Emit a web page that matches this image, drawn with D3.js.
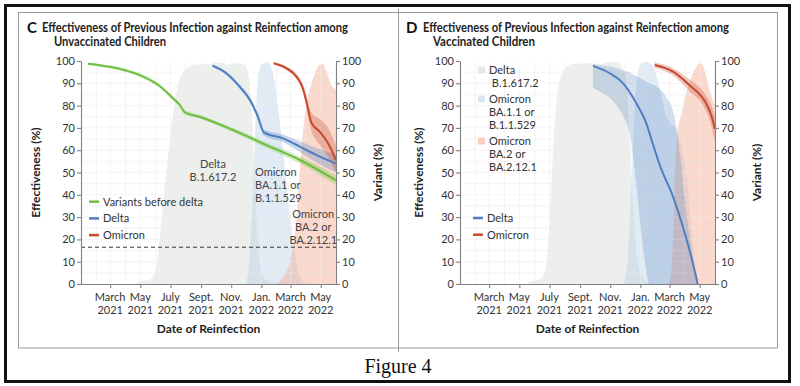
<!DOCTYPE html>
<html><head><meta charset="utf-8">
<script src="https://cdn.jsdelivr.net/npm/d3@7"></script>
<style>
body{margin:0;background:#fff;}
svg{display:block;font-family:Lato,"Open Sans",sans-serif;}
</style>
</head><body>
<svg id="chart" width="800" height="386"></svg>
<script>
// ---------- shared axis data ----------
const tickDates  = ["2021-03-01","2021-05-01","2021-07-01","2021-09-01","2021-11-01","2022-01-01","2022-03-01","2022-05-01"];
const tickMonths = ["March","May","July","Sept.","Nov.","Jan.","March","May"];
const tickYears  = ["2021","2021","2021","2021","2021","2022","2022","2022"];
const yTicks = [0,10,20,30,40,50,60,70,80,90,100];
const dashedLevel = 16.5;

// ---------- Panel C: unvaccinated ----------
const unvDeltaShare = [["2021-01-01",0],["2021-04-22",0],["2021-04-28",1],["2021-05-10",1.5],["2021-05-24",2.5],["2021-06-03",8],["2021-06-09",20],["2021-06-17",38],["2021-06-25",55],["2021-07-04",72],["2021-07-14",87],["2021-07-26",95],["2021-08-09",97.5],["2021-08-23",98.5],["2021-09-18",98.7],["2021-10-12",99.3],["2021-10-25",98.3],["2021-11-08",99],["2021-11-25",98.5],["2021-12-05",95],["2021-12-13",75],["2021-12-19",45],["2021-12-25",18],["2022-01-02",5],["2022-01-14",1.5],["2022-02-07",0.5],["2022-02-27",0]];
const unvBA1Share = [["2021-12-01",0],["2021-12-09",15],["2021-12-17",55],["2021-12-25",92],["2022-01-02",98.5],["2022-01-14",99.3],["2022-01-24",95],["2022-02-03",80],["2022-02-13",62],["2022-02-23",40],["2022-03-06",20],["2022-03-16",6],["2022-03-26",1],["2022-04-09",0]];
const unvBA2Share = [["2022-01-28",0],["2022-02-07",1],["2022-02-17",4],["2022-02-27",9],["2022-03-07",18],["2022-03-13",28],["2022-03-19",48],["2022-03-27",70],["2022-04-02",80],["2022-04-10",88],["2022-04-19",94],["2022-04-27",98],["2022-05-05",98.5],["2022-05-13",95],["2022-05-21",90],["2022-06-01",87]];
// [date, estimate, lower, upper]
const unvPreDelta = [["2021-01-15",98.8,98.2,99.3],["2021-02-28",97.4,96.8,98.0],["2021-04-03",95.7,95.0,96.4],["2021-05-07",93.0,92.2,93.8],["2021-06-09",88.8,88.0,89.7],["2021-07-06",83.3,82.4,84.2],["2021-07-20",80.3,79.4,81.2],["2021-07-30",77.0,76.1,78.0],["2021-08-29",75.0,74.1,75.9],["2021-11-04",69.1,68.1,70.1],["2022-01-11",62.3,61.1,63.5],["2022-03-20",55.6,54.0,57.2],["2022-06-01",46.5,44.3,48.7]];
const unvDelta = [["2021-09-24",97.9,97.3,98.4],["2021-10-22",94.5,93.7,95.3],["2021-11-18",88.5,87.5,89.5],["2021-12-09",82.5,81.3,83.7],["2021-12-25",75.0,73.7,76.3],["2022-01-06",68.0,66.6,69.4],["2022-02-14",65.3,63.6,67.0],["2022-03-20",61.6,59.2,64.0],["2022-04-23",57.8,54.5,61.0],["2022-06-01",54.0,50.0,58.0]];
const unvOmicron = [["2022-01-26",99.0,98.6,99.4],["2022-02-21",96.7,95.9,97.5],["2022-03-13",93.0,91.7,94.3],["2022-03-26",87.8,85.8,89.8],["2022-04-03",81.0,78.3,83.7],["2022-04-12",72.5,69.0,77.0],["2022-04-29",68.3,62.5,74.0],["2022-05-16",63.1,57.0,70.0],["2022-06-01",55.5,50.0,62.0]];

// ---------- Panel D: vaccinated ----------
const vacDeltaShare = [["2021-01-01",0],["2021-05-18",0],["2021-05-24",1.2],["2021-06-11",2],["2021-06-21",5],["2021-06-29",20],["2021-07-05",45],["2021-07-11",70],["2021-07-19",88],["2021-07-31",96],["2021-08-14",98.5],["2021-09-20",99],["2021-10-10",98.5],["2021-10-31",99.5],["2021-11-14",99.5],["2021-11-24",97.5],["2021-12-04",90],["2021-12-12",60],["2021-12-20",25],["2021-12-30",6],["2022-01-15",1],["2022-02-09",0]];
const vacBA1Share = [["2021-11-28",0],["2021-12-06",10],["2021-12-14",45],["2021-12-22",85],["2021-12-30",97],["2022-01-09",99.5],["2022-01-24",98.5],["2022-02-03",93],["2022-02-13",84],["2022-02-23",75],["2022-03-03",72],["2022-03-13",70],["2022-03-25",62],["2022-04-06",45],["2022-04-16",20],["2022-04-25",3],["2022-05-01",0]];
const vacBA2Share = [["2022-02-25",0],["2022-03-03",3],["2022-03-07",15],["2022-03-11",45],["2022-03-17",68],["2022-03-25",76],["2022-04-02",84],["2022-04-10",90],["2022-04-22",96.5],["2022-05-04",99],["2022-05-12",95],["2022-05-22",86],["2022-06-01",80]];
const vacDelta = [["2021-09-27",97.8],["2021-10-31",94.5],["2021-11-27",90],["2021-12-24",81],["2022-01-13",72],["2022-01-26",63],["2022-02-09",53.4],["2022-03-08",39.2],["2022-03-28",25.7],["2022-04-14",12.2],["2022-04-27",0]];
// [date, lower, upper]
const vacDeltaBand = [["2021-09-27",88,98.5],["2021-10-21",85,97.8],["2021-10-31",83.5,97.5],["2021-11-10",81,97],["2021-11-30",74,95.5],["2021-12-10",68,95],["2021-12-14",62,94.5],["2021-12-26",40,93],["2022-01-07",15,91.5],["2022-01-20",0,90],["2022-02-09",0,87.5],["2022-02-25",0,83],["2022-03-11",0,75],["2022-03-21",0,60],["2022-03-31",0,40],["2022-04-10",0,22],["2022-04-20",0,8],["2022-04-28",0,0]];
const vacOmicron = [["2022-01-30",98.2,97.0,99.3],["2022-03-08",95.2,93.5,96.8],["2022-04-10",89.2,86.5,91.8],["2022-05-14",81.0,77.5,84.5],["2022-05-24",76.0,71.5,80.5],["2022-06-01",69.5,63.5,75.5]];

// ---------- styles ----------
const COL = {
  green:"#6cbf3f", blue:"#4f7fc0", red:"#c9482f",
  grayArea:"#c5cac5", blueArea:"#a9c8e2", pinkArea:"#f4a98f",
  axis:"#808080", text:"#333", grid:"#ececec"
};
const OP = {gray:0.3, blue:0.36, pink:0.45};
const parse = d3.timeParse("%Y-%m-%d");
const svg = d3.select("#chart");

// frame
svg.append("rect").attr("x",5.5).attr("y",5.5).attr("width",784).attr("height",376)
  .attr("fill","none").attr("stroke","#111").attr("stroke-width",3);
svg.append("rect").attr("x",18.5).attr("y",12.5).attr("width",759).attr("height",335.5)
  .attr("fill","none").attr("stroke","#9a9a9a").attr("stroke-width",1);
svg.append("line").attr("x1",398.5).attr("x2",398.5).attr("y1",9).attr("y2",352)
  .attr("stroke","#9a9a9a").attr("stroke-width",1);
svg.append("text").attr("x",398).attr("y",373).attr("text-anchor","middle")
  .style("font-family","'Liberation Serif','DejaVu Serif',serif").style("font-size","20px")
  .attr("fill","#111").text("Figure 4");

const W = 255, H = 223;
const x = d3.scaleTime().domain([parse("2021-01-01"), parse("2022-06-01")]).range([0, W]);
const y = d3.scaleLinear().domain([0,100]).range([H,0]);

function panel(cfg){
  const g = svg.append("g").attr("transform",`translate(${cfg.left},61)`);
  const clipId = "clip"+cfg.letter;
  g.append("clipPath").attr("id",clipId).append("rect").attr("width",W).attr("height",H+0.5);
  const plot = g.append("g").attr("clip-path",`url(#${clipId})`);

  // variant share areas
  const shareArea = d3.area().x(d=>x(parse(d[0]))).y0(y(0)).y1(d=>y(d[1])).curve(d3.curveMonotoneX);
  [[cfg.deltaShare,COL.grayArea,OP.gray],[cfg.ba1Share,COL.blueArea,OP.blue],[cfg.ba2Share,COL.pinkArea,OP.pink]]
    .forEach(([data,c,o])=>plot.append("path").datum(data).attr("d",shareArea).attr("fill",c).attr("fill-opacity",o));

  // grid (faint, on top of areas)
  const months = d3.timeMonth.range(parse("2021-01-01"), parse("2022-06-02"));
  plot.append("g").selectAll("line").data(months).join("line")
    .attr("x1",d=>x(d)).attr("x2",d=>x(d)).attr("y1",0).attr("y2",H)
    .attr("stroke",COL.grid).attr("stroke-width",0.7).attr("stroke-opacity",0.8);
  plot.append("g").selectAll("line").data(d3.range(5,100,5)).join("line")
    .attr("x1",0).attr("x2",W).attr("y1",d=>y(d)).attr("y2",d=>y(d))
    .attr("stroke",COL.grid).attr("stroke-width",0.7).attr("stroke-opacity",0.8);

  // bands and lines
  cfg.series.forEach(s=>{
    const band = d3.area().x(d=>x(parse(d[0])))
      .y0(d=>y(s.band? d[1] : d[2])).y1(d=>y(s.band? d[2] : d[3])).curve(d3.curveMonotoneX);
    plot.append("path").datum(s.band || s.data).attr("d",band)
      .attr("fill",s.color).attr("fill-opacity",s.bandOpacity||0.3);
  });
  cfg.series.forEach(s=>{
    const line = d3.line().x(d=>x(parse(d[0]))).y(d=>y(d[1])).curve(d3.curveMonotoneX);
    plot.append("path").datum(s.data).attr("d",line).attr("fill","none")
      .attr("stroke",s.color).attr("stroke-width",2);
  });

  if(cfg.dashed){
    plot.append("line").attr("x1",0).attr("x2",W).attr("y1",y(dashedLevel)).attr("y2",y(dashedLevel))
      .attr("stroke","#333").attr("stroke-width",1).attr("stroke-dasharray","4,3");
  }

  // axes
  const styleAxis = a=>{
    a.selectAll("path,line").attr("stroke",COL.axis).attr("stroke-width",1.1);
    a.selectAll("text").attr("fill",COL.text).style("font-size","11px").style("font-family","Lato,sans-serif");
  };
  g.append("g").call(d3.axisLeft(y).tickValues(yTicks).tickSize(4).tickSizeOuter(0).tickPadding(2)).call(styleAxis);
  g.append("g").attr("transform",`translate(${W},0)`)
    .call(d3.axisRight(y).tickValues(yTicks).tickSize(4).tickSizeOuter(0).tickPadding(2)).call(styleAxis);
  g.append("g").attr("transform",`translate(0,${H})`)
    .call(d3.axisBottom(x).tickValues(tickDates.map(parse)).tickSize(4).tickSizeOuter(0).tickFormat(""))
    .call(styleAxis);
  const tl = g.append("g").selectAll("text").data(tickDates).join("text")
    .attr("x",d=>x(parse(d))).attr("text-anchor","middle")
    .attr("fill",COL.text).style("font-size","11px");
  tl.append("tspan").attr("x",d=>x(parse(d))).attr("y",H+17).text((d,i)=>tickMonths[i]);
  tl.append("tspan").attr("x",d=>x(parse(d))).attr("y",H+30).text((d,i)=>tickYears[i]);

  // axis titles
  g.append("text").attr("x",W/2).attr("y",H+49).attr("text-anchor","middle")
    .attr("fill","#222").style("font-size","12px").style("font-weight","bold").text("Date of Reinfection");
  g.append("text").attr("transform",`translate(${cfg.effX},${H/2}) rotate(-90)`).attr("text-anchor","middle")
    .attr("fill","#222").style("font-size","12px").style("font-weight","bold").text("Effectiveness (%)");
  g.append("text").attr("transform",`translate(${W+46},${H/2}) rotate(-90)`).attr("text-anchor","middle")
    .attr("fill","#222").style("font-size","12px").style("font-weight","bold").text("Variant (%)");

  // panel title
  svg.append("text").attr("x",cfg.left+cfg.letterDx).attr("y",33).attr("fill","#111")
    .style("font-size","15px").style("font-weight","bold").text(cfg.letter);
  svg.append("text").attr("x",cfg.left+cfg.titleDx).attr("y",32).attr("fill","#222")
    .style("font-size","12.5px").style("font-weight","bold")
    .attr("textLength",306).attr("lengthAdjust","spacingAndGlyphs")
    .text("Effectiveness of Previous Infection against Reinfection among");
  svg.append("text").attr("x",cfg.left+cfg.titleDx+cfg.line2Dx).attr("y",46).attr("fill","#222")
    .style("font-size","12.5px").style("font-weight","bold")
    .attr("textLength",cfg.line2Len).attr("lengthAdjust","spacingAndGlyphs")
    .text(cfg.subtitle);

  // line legend
  const lg = g.append("g").attr("transform",`translate(${cfg.legX},0)`);
  cfg.series.forEach((s,i)=>{
    const yy = cfg.legY + i*16.7;
    lg.append("line").attr("x1",0).attr("x2",10).attr("y1",yy).attr("y2",yy)
      .attr("stroke",s.color).attr("stroke-width",2.5);
    lg.append("text").attr("x",14).attr("y",yy+4).attr("fill",COL.text)
      .style("font-size","11px").text(s.name);
  });
  return g;
}

// Panel C
const gC = panel({
  letter:"C", left:81, letterDx:-54, titleDx:-39, line2Dx:12, line2Len:112,
  subtitle:"Unvaccinated Children", effX:-41,
  deltaShare:unvDeltaShare, ba1Share:unvBA1Share, ba2Share:unvBA2Share, dashed:true,
  legX:8, legY:140.7,
  series:[
    {name:"Variants before delta", color:COL.green, data:unvPreDelta},
    {name:"Delta", color:COL.blue, data:unvDelta},
    {name:"Omicron", color:COL.red, data:unvOmicron}
  ]
});
// in-plot variant labels (panel C)
const labC = [
  {lines:["Delta","B.1.617.2"], date:"2021-09-25", val:52, anchor:"middle"},
  {lines:["Omicron","BA.1.1 or","B.1.1.529"], date:"2021-12-19", val:48.5, anchor:"start"},
  {lines:["Omicron","BA.2 or","BA.2.12.1"], date:"2022-04-16", val:29.8, anchor:"middle"}
];
labC.forEach(l=>{
  const t = gC.append("text").attr("text-anchor",l.anchor).attr("fill","#444").style("font-size","11px");
  l.lines.forEach((s,i)=>t.append("tspan").attr("x",x(parse(l.date))).attr("y",y(l.val)+i*13).text(s));
});

// Panel D
const gD = panel({
  letter:"D", left:460, letterDx:-54, titleDx:-37, line2Dx:10, line2Len:102,
  subtitle:"Vaccinated Children", effX:-37,
  deltaShare:vacDeltaShare, ba1Share:vacBA1Share, ba2Share:vacBA2Share, dashed:false,
  legX:13, legY:157,
  series:[
    {name:"Delta", color:COL.blue, data:vacDelta, band:vacDeltaBand, bandOpacity:0.25},
    {name:"Omicron", color:COL.red, data:vacOmicron}
  ]
});
// area legend (panel D)
const areaLeg = [
  {lines:["Delta"," B.1.617.2"], color:COL.grayArea, op:OP.gray},
  {lines:["Omicron","BA.1.1 or","B.1.1.529"], color:COL.blueArea, op:OP.blue},
  {lines:["Omicron","BA.2 or","BA.2.12.1"], color:COL.pinkArea, op:OP.pink}
];
let ly = 9;
areaLeg.forEach(a=>{
  gD.append("rect").attr("x",18).attr("y",ly-3.5).attr("width",7).attr("height",7)
    .attr("fill",a.color).attr("fill-opacity",a.op+0.1);
  const t = gD.append("text").attr("fill",COL.text).style("font-size","11px");
  a.lines.forEach((s,i)=>t.append("tspan").attr("x",29).attr("y",ly+4+i*13).style("white-space","pre").text(s));
  ly += a.lines.length*13 + 3;
});
</script>
</body></html>
